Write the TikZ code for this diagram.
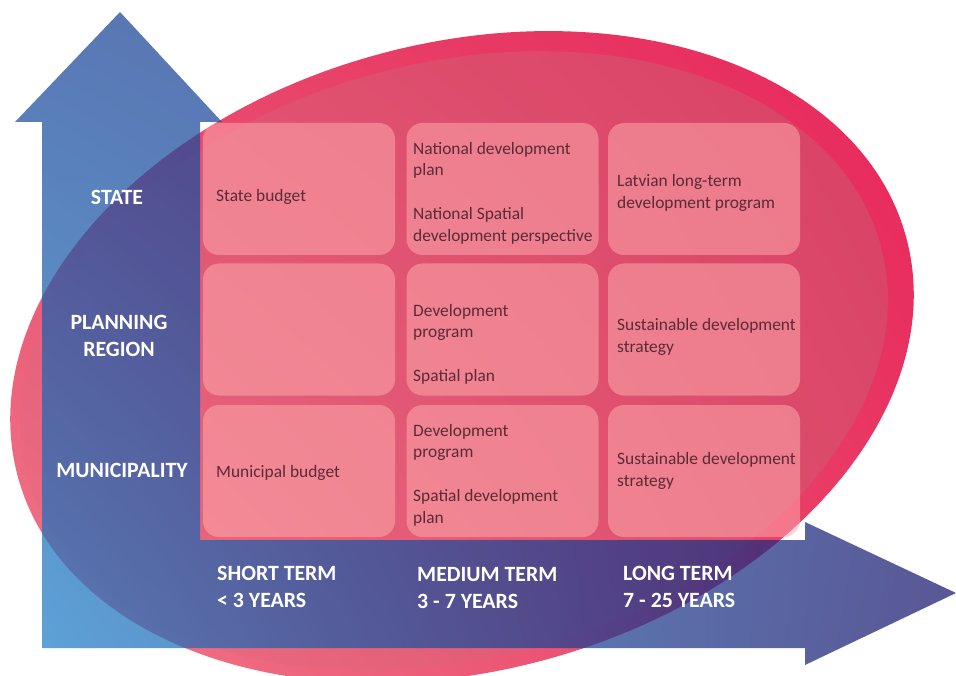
\documentclass[tikz,border=0pt]{standalone}
\usepackage{fontspec}
\setmainfont{Carlito}
\usetikzlibrary{shadings}
\definecolor{elUL}{HTML}{E84A6C}
\definecolor{elUR}{HTML}{E8245A}
\definecolor{elLL}{HTML}{F2808E}
\definecolor{elLR}{HTML}{E83A64}
\definecolor{inUL}{HTML}{E25472}
\definecolor{inUR}{HTML}{D84064}
\definecolor{inLL}{HTML}{EE7688}
\definecolor{inLR}{HTML}{DC4A6A}
\definecolor{arUL}{HTML}{194699}
\definecolor{arLL}{HTML}{1F83CC}
\definecolor{arLR}{HTML}{19146A}
\definecolor{arUR}{HTML}{1A2A80}
\definecolor{boxpink}{HTML}{FFB0B0}
\definecolor{txtc}{HTML}{5B2B35}
\begin{document}
\begin{tikzpicture}[x=1pt,y=-1pt,
  boxst/.style={draw=none, fill=boxpink, fill opacity=0.5, rounded corners=16pt,
    minimum width=192pt, minimum height=132pt, inner sep=0pt},
  txt/.style={anchor=west, align=left, font=\fontsize{17.4}{21.7}\selectfont,
    text=txtc, inner sep=0pt},
  lbl/.style={align=center, font=\fontsize{21.8}{27}\selectfont\bfseries,
    text=white, inner sep=0pt},
  collbl/.style={anchor=west, align=left, font=\fontsize{21.8}{27}\selectfont\bfseries,
    text=white, inner sep=0pt}]
\useasboundingbox (0,0) rectangle (956,676);
\fill[white] (0,0) rectangle (956,676);
% big ellipse
\begin{scope}[rotate around={15:(462,357)}]
  \shade[upper left=elUL, upper right=elUR, lower left=elLL, lower right=elLR]
    (462,357) ellipse [x radius=460pt, y radius=314pt];
\end{scope}
\begin{scope}[rotate around={15:(454,361)}]
  \shade[upper left=inUL, upper right=inUR, lower left=inLL, lower right=inLR]
    (454,361) ellipse [x radius=442pt, y radius=298pt];
\end{scope}
% L-shaped double arrow
\shade[fill opacity=0.72, upper left=arUL, upper right=arUR, lower left=arLL, lower right=arLR]
  (120,12) -- (222,122) -- (200,122) -- (200,540) -- (805,540) -- (805,522)
  -- (956,593) -- (805,665) -- (805,648) -- (42,648) -- (42,122) -- (15,122) -- cycle;
% grid boxes
\node[boxst] (b11) at (299,189) {};
\node[boxst] (b12) at (502.5,189) {};
\node[boxst] (b13) at (704,189) {};
\node[boxst] (b21) at (299,329.5) {};
\node[boxst] (b22) at (502.5,329.5) {};
\node[boxst] (b23) at (704,329.5) {};
\node[boxst] (b31) at (299,471) {};
\node[boxst] (b32) at (502.5,471) {};
\node[boxst] (b33) at (704,471) {};
% box texts
\node[txt] (t11) at (216,197) {State budget};
\node[txt] (t12) at (413,193) {National development\\plan\\[21.7pt]National Spatial\\development perspective};
\node[txt] (t13) at (617,193) {Latvian long-term\\development program};
\node[txt] (t22) at (413,344) {Development\\program\\[21.7pt]Spatial plan};
\node[txt] (t23) at (617,337) {Sustainable development\\strategy};
\node[txt] (t31) at (216,473) {Municipal budget};
\node[txt] (t32) at (413,475) {Development\\program\\[21.7pt]Spatial development\\plan};
\node[txt] (t33) at (617,471) {Sustainable development\\strategy};
% axis labels
\node[lbl] (lstate) at (117,197) {STATE};
\node[lbl] (lplan) at (119,336) {PLANNING\\REGION};
\node[lbl] (lmun) at (122,470) {MUNICIPALITY};
\node[collbl] (cshort) at (217,587) {SHORT TERM\\< 3 YEARS};
\node[collbl] (cmed) at (417,588) {MEDIUM TERM\\3 - 7 YEARS};
\node[collbl] (clong) at (623,587) {LONG TERM\\7 - 25 YEARS};
\end{tikzpicture}
\end{document}
